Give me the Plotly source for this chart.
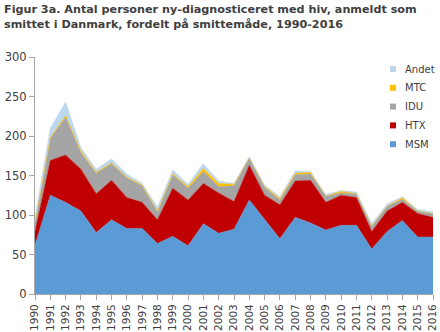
import plotly.graph_objects as go

years = list(range(1990, 2017))
msm   = [62, 125, 116, 105, 78, 94, 83, 83, 64, 73, 61, 89, 77, 82, 119, 95, 70, 97, 90, 81, 87, 87, 57, 79, 93, 72, 72]
htx   = [17, 44, 60, 53, 49, 50, 39, 33, 30, 61, 58, 51, 51, 35, 44, 30, 43, 46, 54, 35, 38, 35, 22, 26, 23, 30, 25]
idu   = [11, 28, 48, 21, 26, 21, 25, 21, 10, 17, 15, 15, 8, 20, 9, 10, 6, 8, 8, 8, 3, 5, 7, 6, 4, 3, 5]
mtc   = [0, 1, 2, 2, 1, 1, 1, 1, 1, 1, 2, 4, 4, 2, 0, 1, 2, 2, 2, 0, 2, 0, 0, 0, 2, 0, 0]
andet = [7, 12, 17, 4, 4, 5, 4, 2, 5, 5, 3, 6, 3, 1, 2, 2, 2, 3, 1, 2, 1, 2, 3, 3, 1, 2, 2]

series = [
    ("MSM", msm, "#5B9BD5"),
    ("HTX", htx, "#C00000"),
    ("IDU", idu, "#A5A5A5"),
    ("MTC", mtc, "#FFC000"),
    ("Andet", andet, "#BDD7EE"),
]

FONT = "DejaVu Sans"
TXT = "#404040"

# plot area in pixels
L, R, T, B = 35, 433, 57, 294
W, H = R - L, B - T
def px(x):
    return (x - L) / W
def py(y):
    return (B - y) / H

fig = go.Figure()
for name, vals, col in series:
    fig.add_trace(go.Scatter(
        x=years, y=vals, name=name, stackgroup="one", mode="lines",
        line=dict(width=0.5, color=col), fillcolor=col, showlegend=False,
        hoverinfo="x+y+name"))

# manual legend (top item = last series)
shapes, annotations = [], []
for i, (name, vals, col) in enumerate(reversed(series)):
    cy = 69 + i * 18.8
    shapes.append(dict(type="rect", xref="paper", yref="paper",
                       x0=px(390), x1=px(396), y0=py(cy + 3), y1=py(cy - 3),
                       fillcolor=col, line=dict(width=0)))
    annotations.append(dict(text=name, xref="paper", yref="paper",
                            x=px(403), y=py(cy), xanchor="left", yanchor="middle",
                            showarrow=False,
                            font=dict(family=FONT, size=10, color=TXT)))

annotations.append(dict(
    text="<b>Figur 3a. Antal personer ny-diagnosticeret med hiv, anmeldt som<br>smittet i Danmark, fordelt på smittemåde, 1990-2016</b>",
    xref="paper", yref="paper", x=px(2), y=py(1),
    xanchor="left", yanchor="top", align="left", showarrow=False,
    font=dict(family=FONT, size=11.2, color=TXT)))

fig.update_layout(
    width=440, height=332,
    margin=dict(l=L, r=440 - R, t=T, b=332 - B, autoexpand=False),
    paper_bgcolor="white", plot_bgcolor="white",
    font=dict(family=FONT, size=11, color=TXT),
    annotations=annotations, shapes=shapes,
    showlegend=False,
)
fig.update_xaxes(
    range=[1990, 2016], tickmode="array", tickvals=years,
    ticktext=[str(y) for y in years], tickangle=-90,
    ticks="outside", ticklen=5, tickcolor="#A6A6A6",
    showline=True, linecolor="#A6A6A6", showgrid=False, zeroline=False,
    tickfont=dict(family=FONT, size=10.5, color=TXT))
fig.update_yaxes(
    range=[0, 300], dtick=50, ticks="outside", ticklen=5, tickcolor="#A6A6A6",
    showline=True, linecolor="#A6A6A6", showgrid=False, zeroline=False,
    tickfont=dict(family=FONT, size=11.5, color=TXT))

fig.write_html("out.html")
